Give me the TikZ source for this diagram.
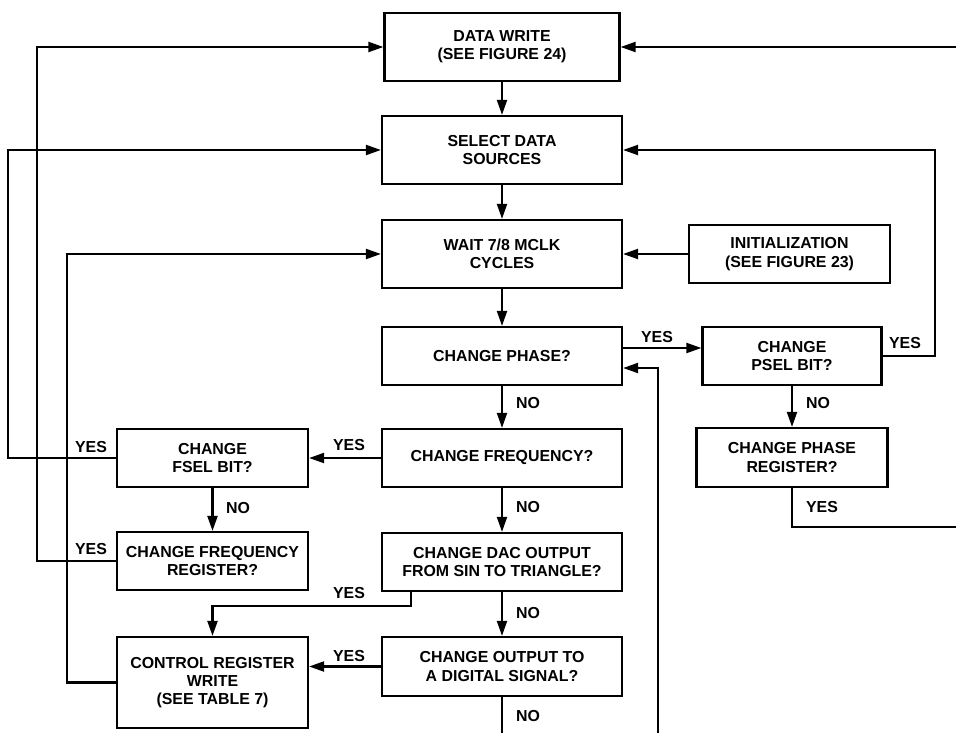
\documentclass[tikz,border=0pt]{standalone}
\usepackage{fontspec}
\setmainfont{Liberation Sans}
\usetikzlibrary{arrows.meta}
\begin{document}
\begin{tikzpicture}[x=1pt,y=-1pt,
  every node/.style={font=\fontsize{15.9pt}{18.3pt}\selectfont\bfseries},
  bx/.style={draw,line width=2.2pt,align=center,inner sep=0pt},
  ln/.style={line width=2.1pt},
  arr/.style={ln,-{Triangle[length=15pt,width=10pt]}},
  lab/.style={inner sep=0pt,anchor=center}]
\useasboundingbox (0,0) rectangle (956,733);
% boxes
\node[bx,minimum width=235pt,minimum height=68pt] (dw) at (502,47) {DATA WRITE\\(SEE FIGURE 24)};
\node[bx,minimum width=240pt,minimum height=68pt] (sel) at (502,150) {SELECT DATA\\SOURCES};
\node[bx,minimum width=240pt,minimum height=68pt] (wait) at (502,254) {WAIT 7/8 MCLK\\CYCLES};
\node[bx,minimum width=201pt,minimum height=58pt] (init) at (789.5,254) {INITIALIZATION\\(SEE FIGURE 23)};
\node[bx,minimum width=240pt,minimum height=58pt] (phase) at (502,356) {CHANGE PHASE?};
\node[bx,minimum width=179pt,minimum height=58pt] (psel) at (792,356) {CHANGE\\PSEL BIT?};
\node[bx,minimum width=240pt,minimum height=58pt] (freq) at (502,458) {CHANGE FREQUENCY?};
\node[bx,minimum width=191pt,minimum height=58pt] (fsel) at (212.5,458) {CHANGE\\FSEL BIT?};
\node[bx,minimum width=191pt,minimum height=59pt] (preg) at (792,457.5) {CHANGE PHASE\\REGISTER?};
\node[bx,minimum width=191pt,minimum height=58pt] (freg) at (212.5,561) {CHANGE FREQUENCY\\REGISTER?};
\node[bx,minimum width=240pt,minimum height=58pt] (dac) at (502,562) {CHANGE DAC OUTPUT\\FROM SIN TO TRIANGLE?};
\node[bx,minimum width=191pt,minimum height=91pt] (ctrl) at (212.5,682.5) {CONTROL REGISTER\\WRITE\\(SEE TABLE 7)};
\node[bx,minimum width=240pt,minimum height=59pt] (dig) at (502,666.5) {CHANGE OUTPUT TO\\A DIGITAL SIGNAL?};
% free ends
\coordinate (L1) at (8,0);
\coordinate (L2) at (37,0);
\coordinate (L3) at (67,0);
\coordinate (R1) at (956,47);
\coordinate (R2) at (956,527);
\coordinate (PX) at (935,150);
\coordinate (B1) at (502,733);
\coordinate (B2) at (658,733);
% main flow
\draw[arr] (dw.south) -- (sel.north);
\draw[arr] (sel.south) -- (wait.north);
\draw[arr] (wait.south) -- (phase.north);
\draw[arr] (phase.south) -- (freq.north);
\draw[arr] (freq.south) -- (dac.north);
\draw[arr] (dac.south) -- (dig.north);
\draw[ln] (dig.south) -- (B1);
% side connectors
\draw[arr] (init.west) -- (wait.east);
\draw[arr] ([yshift=8pt]phase.east) -- ([yshift=8pt]psel.west);
\draw[arr] (psel.east) -| (PX) -- (sel.east);
\draw[arr] (psel.south) -- (preg.north);
\draw[ln] (preg.south) |- (R2);
\draw[arr] (R1) -- (dw.east);
\draw[arr] (B2) |- ([yshift=-12pt]phase.east);
\draw[arr] (freq.west) -- (fsel.east);
\draw[arr] (fsel.south) -- (freg.north);
\draw[arr] (fsel.west) -- (fsel.west -| L1) |- (sel.west);
\draw[arr] (freg.west) -- (freg.west -| L2) |- (dw.west);
\draw[arr] (ctrl.west) -- (ctrl.west -| L3) |- (wait.west);
\draw[arr] ([xshift=-91pt]dac.south) -- ++(0,14) -| (ctrl.north);
\draw[arr] (dig.west) -- (dig.west -| ctrl.east);
% labels
\node[lab] (y1) at (657,337) {YES};
\node[lab] (y2) at (905,343) {YES};
\node[lab] (y3) at (822,507) {YES};
\node[lab] (y4) at (349,445) {YES};
\node[lab] (y5) at (91,447) {YES};
\node[lab] (y6) at (91,549) {YES};
\node[lab] (y7) at (349,593) {YES};
\node[lab] (y8) at (349,656) {YES};
\node[lab] (n1) at (528,403) {NO};
\node[lab] (n2) at (528,507) {NO};
\node[lab] (n3) at (528,613) {NO};
\node[lab] (n4) at (528,716) {NO};
\node[lab] (n5) at (818,403) {NO};
\node[lab] (n6) at (238,508) {NO};
\end{tikzpicture}
\end{document}
